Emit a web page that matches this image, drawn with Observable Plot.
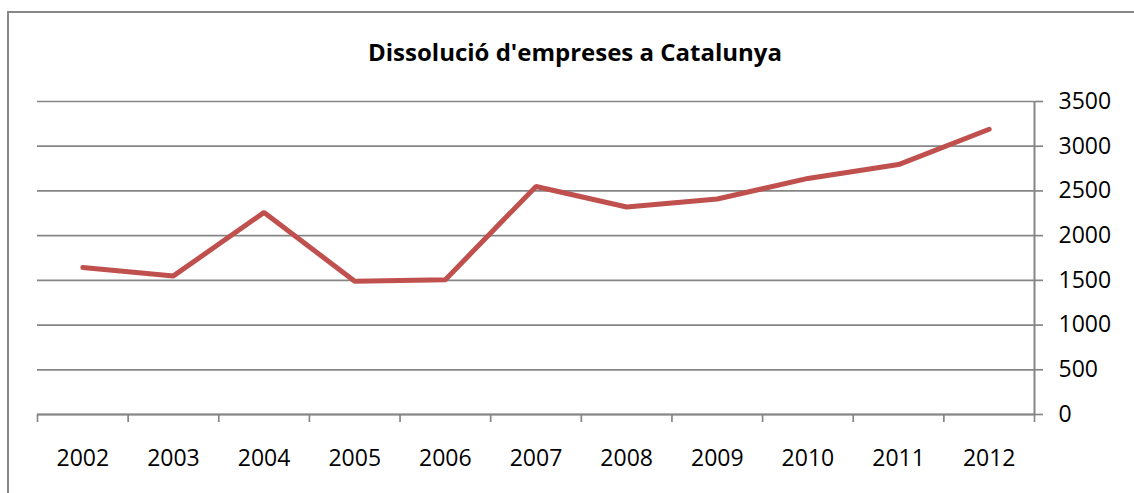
<!DOCTYPE html>
<html>
<head>
<meta charset="utf-8">
<script src="https://cdn.jsdelivr.net/npm/d3@7"></script>
<script src="https://cdn.jsdelivr.net/npm/@observablehq/plot@0.6"></script>
<style>
  html, body { margin: 0; padding: 0; background: #fff; overflow: hidden; }
  #wrap { position: relative; width: 1134px; height: 493px; }
  #frame { position: absolute; left: 7px; top: 11px; width: 1300px; height: 700px; border: 2px solid #878787; box-sizing: border-box; }
  #title { position: absolute; left: 0; top: 36px; width: 1150px; text-align: center;
           font-family: "Open Sans", sans-serif; font-weight: bold; font-size: 24px; line-height: 32px; color: #000; }
  #chart { position: absolute; left: 0; top: 80px; }
</style>
</head>
<body>
<div id="wrap">
  <div id="frame"></div>
  <div id="title">Dissolució d'empreses a Catalunya</div>
  <div id="chart"></div>
</div>
<script>
const years = [2002, 2003, 2004, 2005, 2006, 2007, 2008, 2009, 2010, 2011, 2012];
const dissolucions = [1645, 1550, 2260, 1490, 1508, 2550, 2320, 2410, 2640, 2795, 3190];
const yTicks = [0, 500, 1000, 1500, 2000, 2500, 3000, 3500];
const title = "Dissolució d'empreses a Catalunya";

const data = years.map((y, i) => ({year: y, value: dissolucions[i]}));
const boundaries = [years[0] - 0.5, ...years.map(y => y + 0.5)];
const grey = "#868686";

const plot = Plot.plot({
  width: 1134,
  height: 413,
  marginLeft: 37,
  marginRight: 100,
  marginTop: 21,
  marginBottom: 79,
  style: {fontFamily: "'Open Sans', sans-serif", fontSize: "23px", color: "#000", background: "transparent"},
  x: {type: "linear", domain: [years[0] - 0.5, years[years.length - 1] + 0.5]},
  y: {domain: [0, 3500]},
  marks: [
    Plot.gridY(yTicks, {stroke: grey, strokeOpacity: 1, strokeWidth: 1.7}),
    Plot.ruleX([boundaries[boundaries.length - 1]], {stroke: grey, strokeWidth: 2}),
    Plot.ruleY([0], {stroke: grey, strokeWidth: 2}),
    Plot.axisX(boundaries, {tickSize: 8, text: null, stroke: grey, strokeWidth: 1.7, label: null}),
    Plot.axisX(years, {tickSize: 0, tickPadding: 35, tickFormat: d => String(d), label: null, fill: "#000"}),
    Plot.axisY(yTicks, {anchor: "right", tickSize: 8, tickPadding: 16, tickFormat: d => String(d), stroke: grey, strokeWidth: 1.7, label: null, fill: "#000", textAnchor: "start"}),
    Plot.line(data, {x: "year", y: "value", stroke: "#C0504D", strokeWidth: 5, strokeLinecap: "round", strokeLinejoin: "miter"})
  ]
});
document.getElementById("chart").appendChild(plot);
</script>
</body>
</html>
